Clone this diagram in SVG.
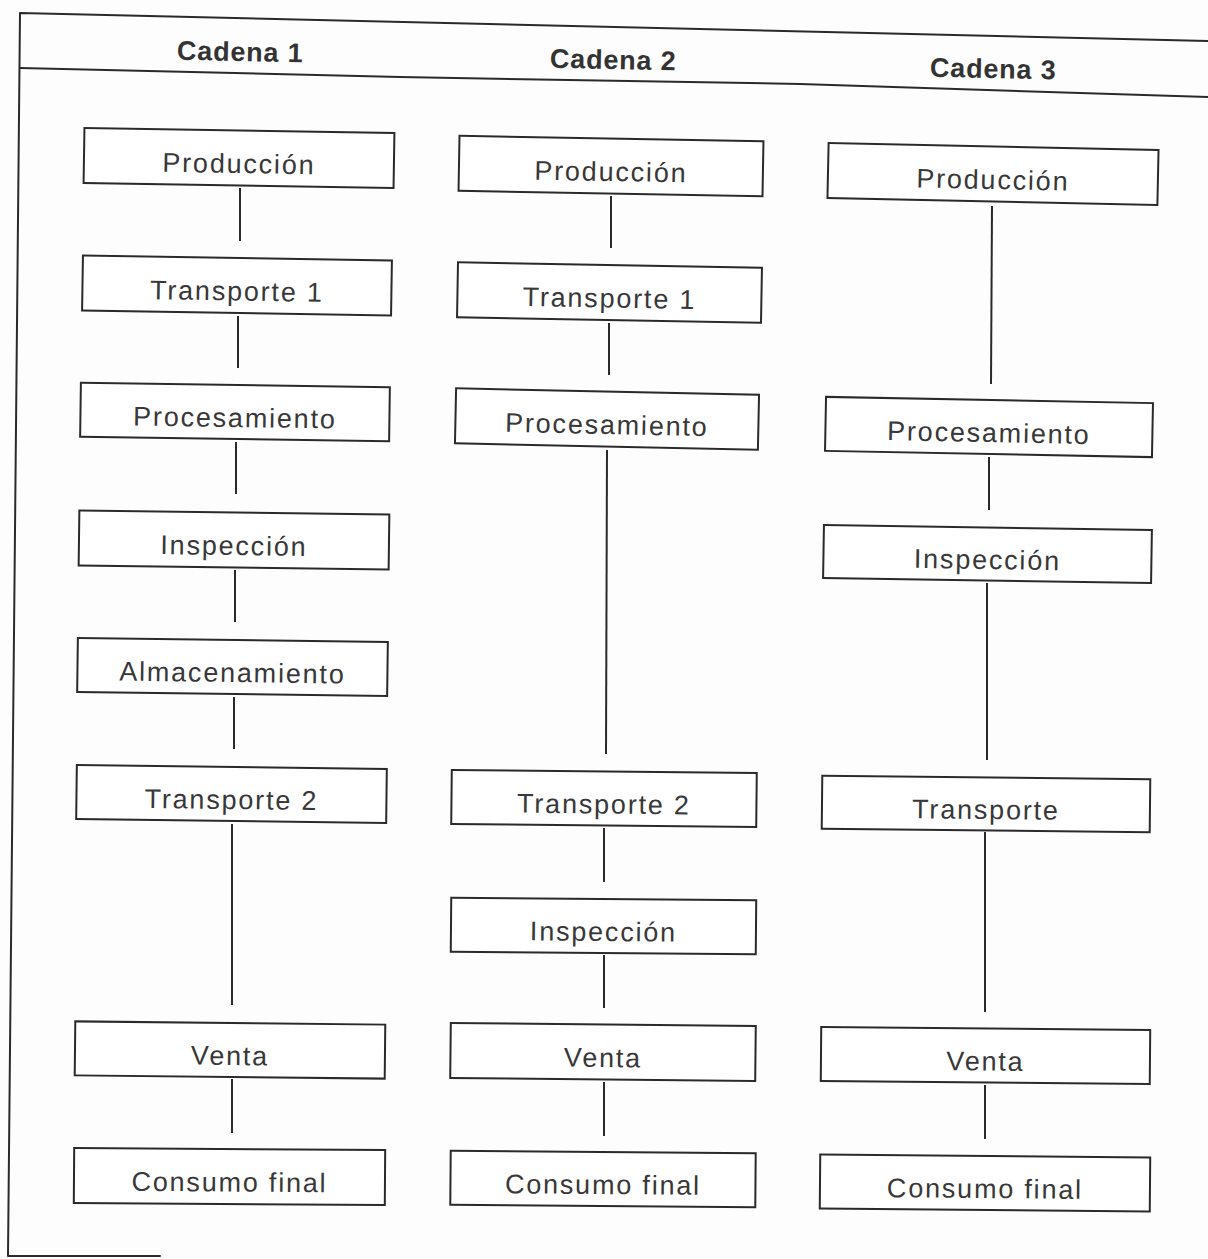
<svg xmlns="http://www.w3.org/2000/svg" width="1208" height="1259" viewBox="0 0 1208 1259">
  <style>
    .frame { fill: none; stroke: #2a2a2a; stroke-width: 2; stroke-linecap: round; stroke-linejoin: round; }
    .box { fill: #ffffff; stroke: #2a2a2a; stroke-width: 2; }
    .lbl { font-family: "Liberation Sans", Arial, sans-serif; font-size: 27px; letter-spacing: 1.8px; fill: #383838; text-anchor: middle; }
    .hdr { font-family: "Liberation Sans", Arial, sans-serif; font-size: 27px; font-weight: bold; letter-spacing: 0.8px; fill: #333333; text-anchor: middle; }
    .link { stroke: #2a2a2a; stroke-width: 2; fill: none; }
  </style>

  <rect width="1208" height="1259" fill="#fdfdfd"/>

  <!-- outer frame and header band -->
  <g id="frame">
    <polyline class="frame" points="1208,41 20,13 8,1256 160,1256"/>
    <polyline class="frame" points="20,68 400,77 800,84 1208,97"/>
  </g>

  <!-- column headings -->
  <g id="headers">
    <text class="hdr" x="240" y="61" transform="rotate(1.2 240 61)">Cadena 1</text>
    <text class="hdr" x="613" y="69" transform="rotate(1.2 613 69)">Cadena 2</text>
    <text class="hdr" x="993" y="78" transform="rotate(1.2 993 78)">Cadena 3</text>
  </g>

  <!-- vertical links between the stages of each chain -->
  <g id="connectors">
    <!-- Cadena 1 -->
    <line class="link" x1="240" y1="188" x2="240" y2="241"/>
    <line class="link" x1="238" y1="316" x2="238" y2="368"/>
    <line class="link" x1="236" y1="442" x2="236" y2="494"/>
    <line class="link" x1="235" y1="570" x2="235" y2="622"/>
    <line class="link" x1="234" y1="697" x2="234" y2="749"/>
    <line class="link" x1="232" y1="824" x2="232" y2="1005"/>
    <line class="link" x1="232" y1="1079" x2="232" y2="1133"/>
    <!-- Cadena 2 -->
    <line class="link" x1="611" y1="196" x2="611" y2="248"/>
    <line class="link" x1="609" y1="323" x2="609" y2="375"/>
    <line class="link" x1="607" y1="450" x2="606" y2="754"/>
    <line class="link" x1="604" y1="828" x2="604" y2="882"/>
    <line class="link" x1="604" y1="955" x2="604" y2="1008"/>
    <line class="link" x1="604" y1="1082" x2="604" y2="1136"/>
    <!-- Cadena 3 -->
    <line class="link" x1="992" y1="206" x2="991" y2="384"/>
    <line class="link" x1="989" y1="457" x2="989" y2="510"/>
    <line class="link" x1="987" y1="583" x2="987" y2="760"/>
    <line class="link" x1="985" y1="832" x2="985" y2="1012"/>
    <line class="link" x1="985" y1="1085" x2="985" y2="1139"/>
  </g>

  <!-- Cadena 1 stages -->
  <g id="c1-produccion" transform="translate(239 158) rotate(0.9)">
    <rect class="box" x="-155" y="-27.5" width="310" height="55"/>
    <text class="lbl" x="0" y="15">Producción</text>
  </g>
  <g id="c1-transporte1" transform="translate(237 285.5) rotate(0.9)">
    <rect class="box" x="-154.5" y="-27.5" width="309" height="55"/>
    <text class="lbl" x="0" y="15">Transporte 1</text>
  </g>
  <g id="c1-procesamiento" transform="translate(235 412) rotate(0.8)">
    <rect class="box" x="-154.5" y="-27" width="309" height="54"/>
    <text class="lbl" x="0" y="15">Procesamiento</text>
  </g>
  <g id="c1-inspeccion" transform="translate(234 540) rotate(0.75)">
    <rect class="box" x="-155" y="-27.5" width="310" height="55"/>
    <text class="lbl" x="0" y="15">Inspección</text>
  </g>
  <g id="c1-almacenamiento" transform="translate(232.5 667) rotate(0.75)">
    <rect class="box" x="-155" y="-27" width="310" height="54"/>
    <text class="lbl" x="0" y="15">Almacenamiento</text>
  </g>
  <g id="c1-transporte2" transform="translate(231.5 794) rotate(0.7)">
    <rect class="box" x="-155" y="-27" width="310" height="54"/>
    <text class="lbl" x="0" y="15">Transporte 2</text>
  </g>
  <g id="c1-venta" transform="translate(230 1050) rotate(0.6)">
    <rect class="box" x="-155" y="-27" width="310" height="54"/>
    <text class="lbl" x="0" y="15">Venta</text>
  </g>
  <g id="c1-consumo" transform="translate(229.5 1176.5) rotate(0.4)">
    <rect class="box" x="-155.5" y="-27.5" width="311" height="55"/>
    <text class="lbl" x="0" y="15">Consumo final</text>
  </g>

  <!-- Cadena 2 stages -->
  <g id="c2-produccion" transform="translate(611 166) rotate(1.0)">
    <rect class="box" x="-152" y="-27.5" width="304" height="55"/>
    <text class="lbl" x="0" y="15">Producción</text>
  </g>
  <g id="c2-transporte1" transform="translate(609.5 292.5) rotate(1.0)">
    <rect class="box" x="-152" y="-27.5" width="304" height="55"/>
    <text class="lbl" x="0" y="15">Transporte 1</text>
  </g>
  <g id="c2-procesamiento" transform="translate(607 419) rotate(1.2)">
    <rect class="box" x="-151.5" y="-27.5" width="303" height="55"/>
    <text class="lbl" x="0" y="15">Procesamiento</text>
  </g>
  <g id="c2-transporte2" transform="translate(604 798.5) rotate(0.6)">
    <rect class="box" x="-152.5" y="-27" width="305" height="54"/>
    <text class="lbl" x="0" y="15">Transporte 2</text>
  </g>
  <g id="c2-inspeccion" transform="translate(603.5 926) rotate(0.5)">
    <rect class="box" x="-152.5" y="-27" width="305" height="54"/>
    <text class="lbl" x="0" y="15">Inspección</text>
  </g>
  <g id="c2-venta" transform="translate(603 1052) rotate(0.6)">
    <rect class="box" x="-152.5" y="-27.5" width="305" height="55"/>
    <text class="lbl" x="0" y="15">Venta</text>
  </g>
  <g id="c2-consumo" transform="translate(603 1179) rotate(0.45)">
    <rect class="box" x="-152.5" y="-27" width="305" height="54"/>
    <text class="lbl" x="0" y="15">Consumo final</text>
  </g>

  <!-- Cadena 3 stages -->
  <g id="c3-produccion" transform="translate(993 174) rotate(1.2)">
    <rect class="box" x="-165" y="-27.5" width="330" height="55"/>
    <text class="lbl" x="0" y="15">Producción</text>
  </g>
  <g id="c3-procesamiento" transform="translate(989 427) rotate(1.1)">
    <rect class="box" x="-163.5" y="-27" width="327" height="54"/>
    <text class="lbl" x="0" y="15">Procesamiento</text>
  </g>
  <g id="c3-inspeccion" transform="translate(987.5 554) rotate(0.9)">
    <rect class="box" x="-164" y="-26.5" width="328" height="53"/>
    <text class="lbl" x="0" y="15">Inspección</text>
  </g>
  <g id="c3-transporte" transform="translate(986 804) rotate(0.6)">
    <rect class="box" x="-164" y="-26.5" width="328" height="53"/>
    <text class="lbl" x="0" y="15">Transporte</text>
  </g>
  <g id="c3-venta" transform="translate(985.5 1055.5) rotate(0.5)">
    <rect class="box" x="-164.5" y="-27" width="329" height="54"/>
    <text class="lbl" x="0" y="15">Venta</text>
  </g>
  <g id="c3-consumo" transform="translate(985 1183) rotate(0.5)">
    <rect class="box" x="-165" y="-27" width="330" height="54"/>
    <text class="lbl" x="0" y="15">Consumo final</text>
  </g>
</svg>
